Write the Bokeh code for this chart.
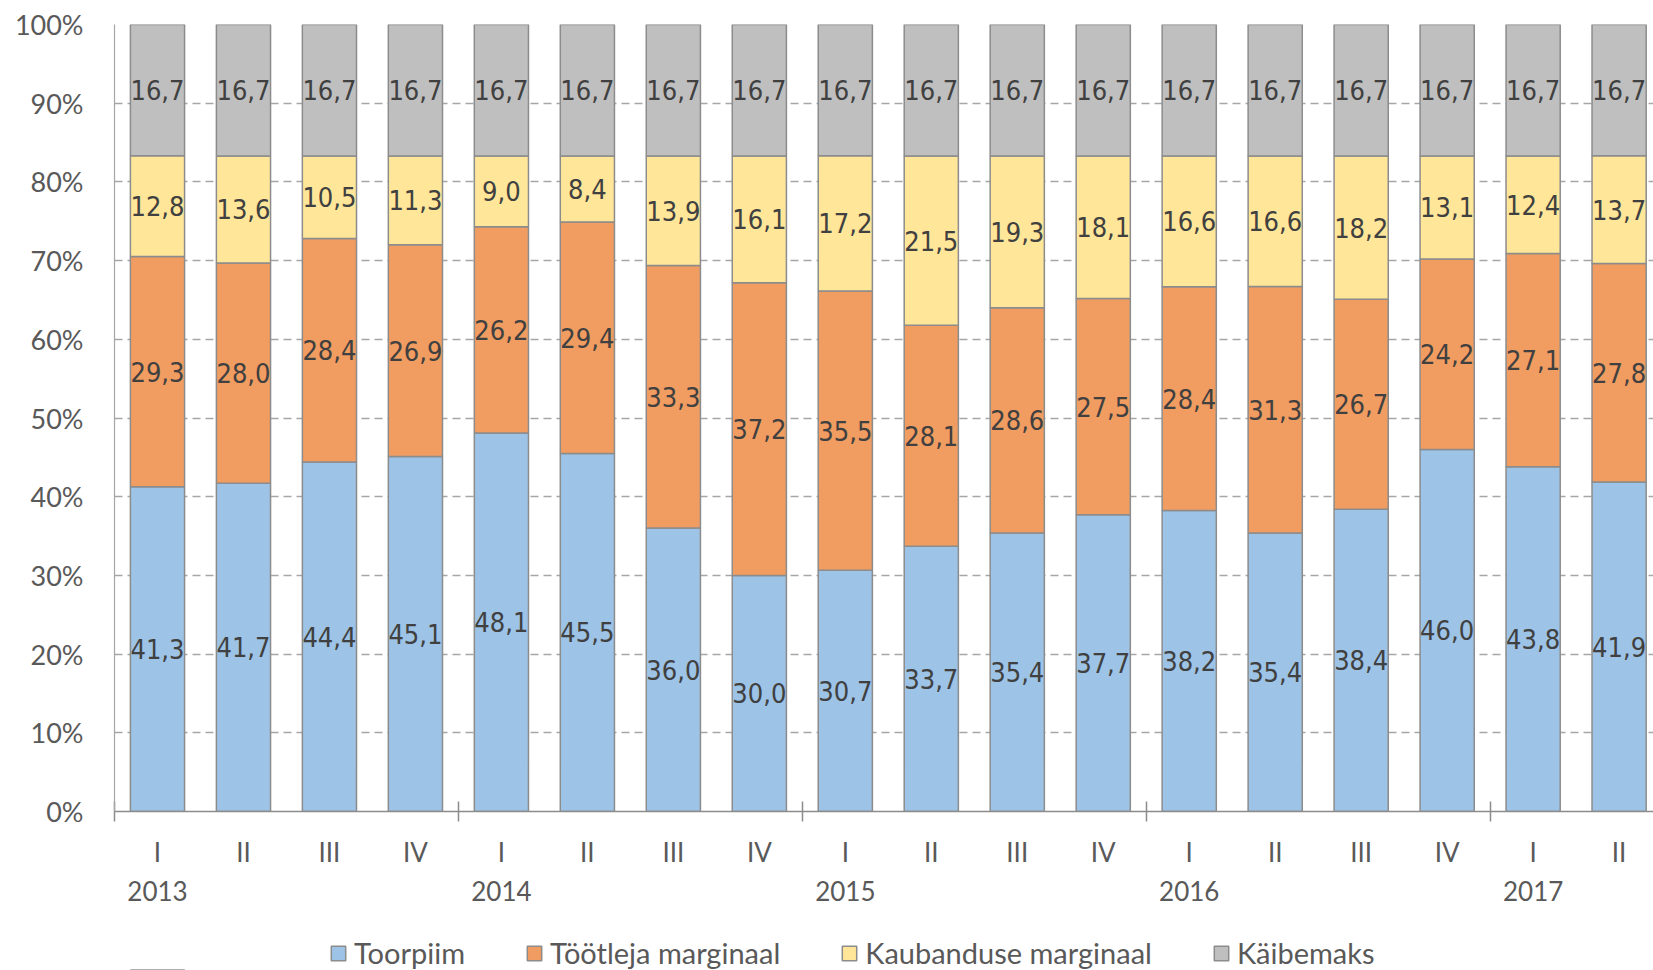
import numpy as np
from bokeh.plotting import figure
from bokeh.layouts import column
from bokeh.models import ColumnDataSource, Range1d, FixedTicker, Legend, LegendItem
from bokeh.embed import file_html
from bokeh.resources import INLINE
from bokeh.core.properties import value

# ---- data ----
quarters = ["I", "II", "III", "IV", "I", "II", "III", "IV", "I", "II", "III", "IV",
            "I", "II", "III", "IV", "I", "II"]
years = ["2013", "2014", "2015", "2016", "2017"]
year_first_index = [0, 4, 8, 12, 16]
toorpiim = [41.3, 41.7, 44.4, 45.1, 48.1, 45.5, 36.0, 30.0, 30.7, 33.7, 35.4, 37.7,
            38.2, 35.4, 38.4, 46.0, 43.8, 41.9]
tootleja = [29.3, 28.0, 28.4, 26.9, 26.2, 29.4, 33.3, 37.2, 35.5, 28.1, 28.6, 27.5,
            28.4, 31.3, 26.7, 24.2, 27.1, 27.8]
kaubandus = [12.8, 13.6, 10.5, 11.3, 9.0, 8.4, 13.9, 16.1, 17.2, 21.5, 19.3, 18.1,
             16.6, 16.6, 18.2, 13.1, 12.4, 13.7]
kaibemaks = [16.7] * 18
series_names = ["Toorpiim", "Töötleja marginaal", "Kaubanduse marginaal", "Käibemaks"]
colors = ["#9DC3E6", "#F19C60", "#FFE699", "#BFBFBF"]
y_ticks = [0, 10, 20, 30, 40, 50, 60, 70, 80, 90, 100]

# ---- build ----
raw = np.array([toorpiim, tootleja, kaubandus, kaibemaks], dtype=float)
shares = raw / raw.sum(axis=0) * 100.0
keys = ["s0", "s1", "s2", "s3"]
x = list(range(len(quarters)))
src = ColumnDataSource(dict(x=x, **{k: shares[i] for i, k in enumerate(keys)}))

AXIS_FONT = "Lato"
TXT = "#595959"
BAR_LINE = "#8C8C8C"

xr = Range1d(-0.5, 17.4)
p = figure(width=1653, height=870, output_backend="svg", toolbar_location=None,
           x_range=xr, y_range=Range1d(0, 100),
           min_border_left=114, min_border_top=24, min_border_right=0, min_border_bottom=59)
p.outline_line_color = None
p.xgrid.visible = False

rs = p.vbar_stack(keys, x="x", width=0.63, color=colors, line_color=BAR_LINE,
                  line_width=1.5, source=src)

# data labels
lx, ly, lt = [], [], []
cum = np.zeros(len(x))
for i in range(4):
    centers = cum + shares[i] / 2.0
    cum = cum + shares[i]
    for j in x:
        lx.append(j)
        ly.append(centers[j])
        lt.append(f"{raw[i][j]:.1f}".replace(".", ","))
p.text(x="x", y="y", text="t", source=ColumnDataSource(dict(x=lx, y=ly, t=lt)),
       text_align="center", text_baseline="middle",
       text_font=value("DejaVu Sans Condensed"), text_font_size="27px",
       text_color="#404040")

# y axis
p.yaxis.ticker = FixedTicker(ticks=y_ticks)
p.yaxis.major_label_overrides = {t: f"{t}%" for t in y_ticks}
p.yaxis.major_tick_out = 0
p.yaxis.major_tick_in = 0
p.yaxis.minor_tick_line_color = None
p.yaxis.axis_line_color = "#A6A6A6"
p.yaxis.axis_line_width = 1.2
p.yaxis.major_label_standoff = 31
p.yaxis.major_label_text_font = AXIS_FONT
p.yaxis.major_label_text_font_size = "27px"
p.yaxis.major_label_text_color = TXT

p.ygrid.ticker = FixedTicker(ticks=y_ticks)
p.ygrid.grid_line_color = "#A6A6A6"
p.ygrid.grid_line_dash = "8 5"
p.ygrid.grid_line_width = 1.5

# x axis (quarters, with group separator ticks)
xa = p.xaxis[0]
xa.ticker = FixedTicker(ticks=x, minor_ticks=[-0.5, 3.5, 7.5, 11.5, 15.5])
xa.major_label_overrides = {i: q for i, q in enumerate(quarters)}
xa.major_tick_in = 0
xa.major_tick_out = 0
xa.minor_tick_in = 10
xa.minor_tick_out = 10
xa.minor_tick_line_color = BAR_LINE
xa.minor_tick_line_width = 1.5
xa.axis_line_color = BAR_LINE
xa.axis_line_width = 1.5
xa.major_label_standoff = 14
xa.major_label_text_font = AXIS_FONT
xa.major_label_text_font_size = "26px"
xa.major_label_text_color = TXT

# ---- lower strip: year labels + legend ----
p2 = figure(width=1653, height=100, output_backend="svg", toolbar_location=None,
            x_range=xr, y_range=Range1d(0, 100), x_axis_type=None, y_axis_type=None,
            min_border_left=114, min_border_top=0, min_border_right=0, min_border_bottom=0)
p2.outline_line_color = None
p2.grid.visible = False

p2.text(x="x", y="y", text="t",
        source=ColumnDataSource(dict(x=year_first_index, y=[80] * len(years), t=years)),
        text_align="center", text_baseline="middle", text_font=value(AXIS_FONT),
        text_font_size="26px", text_color=TXT)

# legend proxies (kept below the visible strip, only their style is used by the legend)
rs2 = []
for c in colors:
    rs2.append(p2.vbar(x=[0], bottom=[-60], top=[-50], width=0.63, fill_color=c,
                       line_color=BAR_LINE, line_width=1.5))

legend = Legend(items=[LegendItem(label=n, renderers=[r], index=0)
                       for n, r in zip(series_names, rs2)],
                orientation="horizontal", location=(215, 0),
                label_text_font=AXIS_FONT, label_text_font_size="29px", label_text_color=TXT,
                glyph_width=18, glyph_height=18, label_standoff=7, spacing=60,
                border_line_color=None, background_fill_alpha=0, padding=0, margin=0)
p2.add_layout(legend, "center")

layout = column(p, p2, spacing=0)
open("out.html", "w").write(file_html(layout, INLINE))
